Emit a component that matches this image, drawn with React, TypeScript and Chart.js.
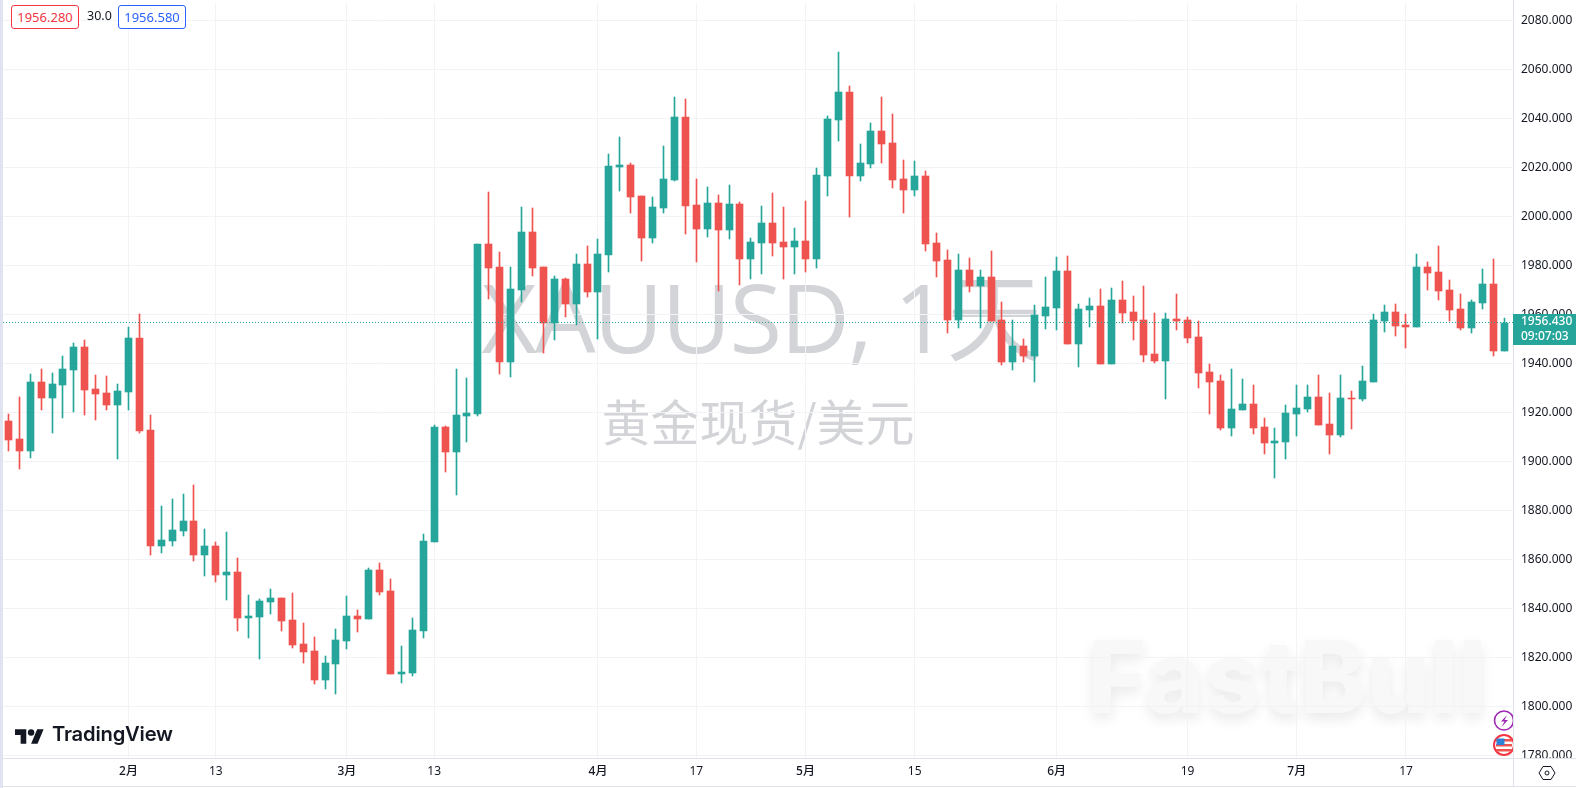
import React, { useEffect, useRef } from "react";
import { Chart, registerables } from "chart.js";

Chart.register(...registerables);

const bodyTops = [
  1916.4,1909.1,1932.4,1932.4,1931.6,1937.7,1946.7,1946.7,1929.5,1927.9,
  1928.7,1950.3,1950.3,1912.8,1867.9,1871.9,1875.6,1875.6,1865.4,1865.4,
  1854.8,1854.8,1836.8,1843,1844.2,1844.2,1835.2,1825.4,1822.6,1817.7,
  1827,1836.8,1836.8,1855.6,1855.6,1847,1814,1831.1,1867.5,1914,
  1914,1918.9,1919.7,1988.7,1988.7,1979.3,1970.3,1993.6,1993.6,1979.3,
  1974.4,1974.4,1980.5,1980.5,1984.6,2020.5,2020.9,2020.9,2008.3,2003.8,
  2015.2,2040.5,2040.5,2004.6,2005.4,2005.4,2005,2005,1989.5,1997.3,
  1997.3,1989.6,1990,1990,2016.9,2039.8,2050.8,2050.8,2021.8,2034.9,
  2034.9,2030,2015.3,2016.5,2016.5,1989.1,1982.2,1978.1,1978.1,1975.3,
  1975.3,1957.7,1947.1,1947.1,1959.8,1963,1977.7,1977.6,1962.1,1963.4,
  1963.4,1965.8,1965.8,1960.9,1957.6,1943.8,1958.1,1958.1,1957.6,1950.7,
  1936.4,1932.8,1921.3,1923.4,1923.4,1914,1908.3,1919.7,1921.7,1926.2,
  1926.2,1915.2,1925.8,1925.8,1932.8,1957.7,1960.9,1960.9,1955.6,1979.3,
  1979.3,1977.3,1969.9,1962.2,1965,1972.4,1972.4,1956.43,
];
const bodyBottoms = [
  1908.8,1904.3,1904.3,1925.8,1925.8,1931.2,1937.3,1929.1,1927.5,1923,
  1923,1928.3,1912.4,1865.4,1865.4,1867.5,1871.5,1861.7,1861.7,1853.6,
  1853.6,1836,1836,1836.4,1842.6,1834.8,1825,1822.1,1810.7,1810.7,
  1817.2,1826.6,1835.6,1835.6,1846.6,1813.2,1813.2,1813.6,1830.7,1867,
  1903.8,1903.8,1918.5,1919.3,1978.9,1940.5,1940.5,1969.9,1978.9,1956.4,
  1956.4,1964.2,1964.2,1969.1,1969.1,1984.2,2020.1,2007.9,1991.1,1991.1,
  2003.4,2014.8,2004.2,1994.8,1994.8,1994.4,1994.4,1982.5,1982.5,1989.1,
  1989.1,1987.5,1987.5,1982.6,1982.6,2016.5,2039.3,2016.5,2016.5,2021.4,
  2029.6,2014.9,2010.8,2010.8,1988.7,1981.8,1957.7,1957.7,1971.6,1971.6,
  1957.3,1940.6,1940.6,1943,1943,1959.4,1962.5,1947.9,1947.9,1961.7,
  1939.7,1939.7,1960.5,1957.2,1943.4,1940.9,1940.9,1957.2,1950.3,1936,
  1932.3,1913.6,1913.6,1920.9,1913.6,1907.4,1907.4,1907.9,1919.3,1921.3,
  1914.8,1910.7,1910.7,1925.4,1925.4,1932.4,1957.3,1955.2,1954.8,1954.8,
  1976.8,1969.5,1961.7,1954.4,1954.4,1964.6,1945,1945,
];
const highs = [
  1919.3,1926.4,1935.6,1937.7,1936,1943,1948.3,1949.5,1935.2,1934.8,
  1931.6,1954.8,1960.1,1918.9,1881.7,1884.6,1886.6,1890.3,1872.3,1867,
  1871.1,1860.5,1845.4,1843.8,1847.9,1844.2,1846.2,1834,1828.3,1820.5,
  1831.5,1845,1839.3,1856.4,1858.5,1851.9,1824.6,1836,1870.3,1914.8,
  1914.4,1937.7,1934,1988.7,2009.9,1985.4,1979.3,2003.8,2003.4,1979.3,
  1975.6,1974.8,1984.6,1987.9,1990.7,2025.4,2032.3,2021.7,2008.3,2007.9,
  2028.7,2048.8,2048,2015.2,2011.9,2008.7,2012.8,2005.8,1991.1,2004.2,
  2009.6,2003.8,1995.3,2006.3,2019.8,2041,2067.1,2053.2,2029.6,2038.1,
  2048.7,2041.8,2023,2022.6,2018.5,1993.2,1986.3,1984.7,1983,1978.1,
  1985.9,1965.1,1957.7,1950,1963.8,1975.3,1983.4,1983.8,1964.2,1966.6,
  1970.3,1970.7,1973.6,1967.4,1971.5,1960.5,1960.5,1968.3,1958.9,1957.2,
  1939.7,1935.2,1937.6,1933.6,1931.1,1917.6,1913.6,1923,1931.1,1931.1,
  1935.2,1927.9,1935.2,1928.7,1938.9,1960.1,1963.8,1964.2,1960.1,1984.6,
  1981.3,1987.9,1974,1968.3,1965.8,1978.5,1982.6,1958.5,
];
const lows = [
  1904.3,1897,1901.5,1921,1911.7,1917.8,1920.2,1918.9,1916.9,1921,
  1901,1921,1911.6,1861.8,1862.6,1865.4,1869.5,1859.3,1853.2,1850.7,
  1843.4,1830.7,1827.9,1819.3,1837.7,1830.7,1823.8,1817.7,1809.1,1807,
  1805,1823.4,1830.3,1835.6,1845.4,1813.2,1809.5,1812.4,1827.9,1867,
  1895.6,1886.2,1907.9,1918.5,1966.2,1935.6,1934.4,1965,1975.6,1944.2,
  1949.5,1958.9,1955.6,1967,1949.9,1977.2,2010.3,2001.3,1981.7,1989.1,
  2001.3,2014.4,1992.8,1981.3,1991.5,1969.5,1990.7,1971.9,1974.4,1976.5,
  1983.8,1974.5,1976.5,1977.3,1978.9,2008.3,2030.8,1999.8,2014.5,2019.8,
  2021.8,2011.6,2001.4,2008.3,1985.9,1975.3,1952.4,1954.5,1969.1,1954.5,
  1957.3,1939.3,1937.3,1940.6,1932.4,1954,1953.6,1947.9,1938.5,1954.8,
  1939.7,1939.7,1956.4,1949.5,1940.5,1940.1,1925.4,1953.6,1948.3,1929.9,
  1919.3,1912.7,1910.3,1920.9,1911.1,1903,1893.2,1900.9,1910.3,1920.1,
  1914.8,1903,1909.9,1913.2,1924.6,1932.4,1952.8,1951.1,1946.2,1954.8,
  1969.9,1965.8,1957.3,1953.6,1952.4,1962.2,1943,1945,
];
const directions = [
  "dduduuuddd",
  "uudduuudud",
  "uduuuddddu",
  "uududduuuu",
  "duuudduudd",
  "ududuuuddu",
  "uuddududuu",
  "dduduuuduu",
  "dddudddudu",
  "dduduuuduu",
  "dudddduddd",
  "dduudduuuu",
  "dduduuuddu",
  "dddduudu",
].join("");

const yTicks = [1780,1800,1820,1840,1860,1880,1900,1920,1940,1960,1980,2000,2020,2040,2060,2080];
const xTickIndex = [11,19,31,39,54,63,73,83,96,108,118,128];
const xTickLabels = ["2月","13","3月","13","4月","17","5月","15","6月","19","7月","17"];
const lastPrice = 1956.43;
const countdown = "09:07:03";
const sellPrice = "1956.280";
const spread = "30.0";
const buyPrice = "1956.580";
const symbolTitle = "XAUUSD, 1天";
const symbolName = "黄金现货/美元";

const UP = "#26a69a";
const DOWN = "#ef5350";
const LINE = "#e0e3eb";
const GRID = "#f2f3f6";
const WM = "rgba(150,153,163,0.42)";
const FONT = '"Noto Sans", "Noto Sans CJK SC", sans-serif';

const snapPlugin = {
  id: "snap",
  afterDatasetsUpdate(chart: any) {
    chart.data.datasets.forEach((_: any, i: number) => {
      chart.getDatasetMeta(i).data.forEach((el: any) => {
        el.x = Math.floor(el.x) + 0.5;
        el.y = Math.round(el.y);
        el.base = Math.round(el.base);
      });
    });
  },
};

const overlayPlugin = {
  id: "overlay",
  beforeDraw(chart: any) {
    const c = chart.ctx;
    c.save();
    c.textAlign = "center";
    c.textBaseline = "alphabetic";
    c.fillStyle = WM;
    c.letterSpacing = "-2px";
    c.font = '96px "Open Sans", "Noto Sans CJK SC", sans-serif';
    c.fillText(symbolTitle, 761, 353);
    c.letterSpacing = "0px";
    c.font = '49px "Noto Sans CJK SC", sans-serif';
    c.fillText(symbolName, 758, 441);
    c.textAlign = "left";
    c.font = '800 100px "Inter", sans-serif';
    c.shadowColor = "rgba(0,0,0,0.09)";
    c.shadowBlur = 14;
    c.shadowOffsetY = 6;
    c.fillStyle = "#f8f8f9";
    c.fillText("FastBull", 1088, 713);
    c.restore();
  },
  afterDatasetsDraw(chart: any) {
    const c = chart.ctx;
    const y = Math.floor(chart.scales.y.getPixelForValue(lastPrice) - 0.6) + 0.5;
    c.save();
    c.strokeStyle = UP;
    c.lineWidth = 1;
    c.setLineDash([1, 2]);
    c.beginPath();
    c.moveTo(chart.chartArea.left, y);
    c.lineTo(chart.chartArea.right, y);
    c.stroke();
    c.restore();
  },
  afterDraw(chart: any) {
    const c = chart.ctx;
    const { right, bottom } = chart.chartArea;
    c.save();
    c.fillStyle = "#ffffff";
    c.fillRect(right, bottom, 1576 - right, 30);
    c.fillStyle = LINE;
    c.fillRect(3, 758, 1573, 1);
    c.fillRect(3, 786, 1573, 1);
    c.fillRect(1513, 0, 1, 787);
    const y = chart.scales.y.getPixelForValue(lastPrice);
    c.fillStyle = UP;
    c.fillRect(1513, Math.round(y) - 9, 63, 31);
    c.fillStyle = "#ffffff";
    c.font = `500 12px ${FONT}`;
    c.textBaseline = "middle";
    c.textAlign = "left";
    c.fillText(lastPrice.toFixed(3), 1521, Math.round(y) - 1);
    c.fillText(countdown, 1521, Math.round(y) + 14);
    c.restore();
  },
};

export default function App() {
  const ref = useRef<HTMLCanvasElement>(null);
  useEffect(() => {
    document.body.style.margin = "0";
    document.body.style.background = "#ffffff";
    const idx = bodyTops.map((_, i) => i);
    const colors = idx.map((i) => (directions[i] === "u" ? UP : DOWN));
    const chart = new Chart(ref.current as HTMLCanvasElement, {
      type: "bar",
      data: {
        datasets: [
          {
            label: "wick",
            data: idx.map((i) => ({ x: i, y: [lows[i], highs[i]] })),
            backgroundColor: colors,
            barThickness: 1,
            grouped: false,
            order: 2,
          },
          {
            label: "body",
            data: idx.map((i) => ({ x: i, y: [bodyBottoms[i], bodyTops[i]] })),
            backgroundColor: colors,
            barThickness: 7,
            grouped: false,
            order: 1,
          },
        ] as any,
      },
      plugins: [snapPlugin, overlayPlugin],
      options: {
        animation: false,
        responsive: false,
        maintainAspectRatio: false,
        layout: { padding: { left: 3, top: 3, right: 0, bottom: 0 } },
        plugins: { legend: { display: false }, tooltip: { enabled: false }, title: { display: false } },
        scales: {
          x: {
            type: "linear",
            offset: false,
            min: -0.49,
            max: 137.8,
            grid: { color: GRID, drawTicks: false, offset: false },
            border: { display: false },
            afterFit: (s: any) => { s.height = 30; s.paddingLeft = 0; s.paddingRight = 0; },
            afterBuildTicks: (s: any) => { s.ticks = xTickIndex.map((value) => ({ value })); },
            ticks: {
              autoSkip: false,
              maxRotation: 0,
              padding: 6,
              color: "#131722",
              font: (ctx: any) => ({
                family: FONT,
                size: 12,
                weight: /月/.test(xTickLabels[ctx.index] || "") ? "500" : "400",
              }),
              callback: (v: any) => xTickLabels[xTickIndex.indexOf(Number(v))] ?? "",
            },
          },
          y: {
            type: "linear",
            position: "right",
            min: 1778.9,
            max: 2087.06,
            grid: { color: GRID, drawTicks: false },
            border: { display: false },
            afterFit: (s: any) => { s.width = 63; s.paddingTop = 0; s.paddingBottom = 0; },
            afterBuildTicks: (s: any) => { s.ticks = yTicks.map((value) => ({ value })); },
            ticks: {
              autoSkip: false,
              padding: 8,
              color: "#131722",
              font: { family: FONT, size: 12 },
              callback: (v: any) => Number(v).toFixed(3),
            },
          },
        },
      } as any,
    });
    return () => chart.destroy();
  }, []);

  const box: React.CSSProperties = {
    position: "absolute", top: 5, height: 22, width: 66, border: "1px solid", borderRadius: 3,
    font: `13px ${FONT}`, lineHeight: "22px", textAlign: "center", background: "#fff",
  };
  return (
    <div style={{ position: "relative", width: 1576, height: 788, overflow: "hidden", background: "#fff" }}>
      <canvas ref={ref} width={1576} height={788} style={{ display: "block", width: 1576, height: 788 }} />
      <div style={{ position: "absolute", left: 0, top: 0, width: 3, height: 788, background: "#e0e3f0" }} />
      <div style={{ ...box, left: 11, color: "#f23645", borderColor: "#f23645" }}>{sellPrice}</div>
      <div style={{ position: "absolute", left: 87, top: 5, font: `12.5px ${FONT}`, lineHeight: "22px", color: "#131722" }}>{spread}</div>
      <div style={{ ...box, left: 118, color: "#2962ff", borderColor: "#2962ff" }}>{buyPrice}</div>
      <svg width={36} height={18} viewBox="0 4 36 18" style={{ position: "absolute", left: 15, top: 729, width: 29, height: 15 }}>
        <path fill="#131722" d="M14 22H7V11H0V4h14v18zM28 22h-8l7.5-18h8L28 22z" />
        <circle fill="#131722" cx="20" cy="8" r="4" />
      </svg>
      <div style={{ position: "absolute", left: 52, top: 722, font: '600 20.2px "Inter", sans-serif', lineHeight: "24px", color: "#131722", letterSpacing: "-0.2px", whiteSpace: "nowrap" }}>TradingView</div>
      <svg width={63} height={60} viewBox="0 0 63 60" style={{ position: "absolute", left: 1483, top: 708 }}>
        <clipPath id="cp"><rect x="0" y="0" width="30" height="50" /></clipPath>
        <g clipPath="url(#cp)">
          <circle cx="21" cy="12.5" r="9.5" fill="#fff" stroke="#9c27b0" strokeWidth="1.6" />
          <path d="M24 7l-6 6.5h3.5l-3 5.5 6.5-7h-3.5z" fill="#9c27b0" />
          <circle cx="21" cy="37" r="10" fill="#fff" stroke="#f23645" strokeWidth="2" />
          <rect x="13" y="31" width="16" height="2.5" fill="#ef5350" />
          <rect x="13" y="36" width="16" height="2.5" fill="#ef5350" />
          <rect x="13" y="41" width="16" height="2.5" fill="#ef5350" />
          <rect x="13.5" y="30.5" width="8" height="6.5" fill="#2f80d8" />
        </g>
      </svg>
      <svg width={18} height={18} viewBox="0 0 18 18" style={{ position: "absolute", left: 1538, top: 764 }}>
        <path d="M5 2.5h8l4 6.5-4 6.5H5L1 9z" fill="none" stroke="#131722" strokeWidth="1" />
        <circle cx="9" cy="9" r="2" fill="none" stroke="#131722" strokeWidth="1" />
      </svg>
    </div>
  );
}
